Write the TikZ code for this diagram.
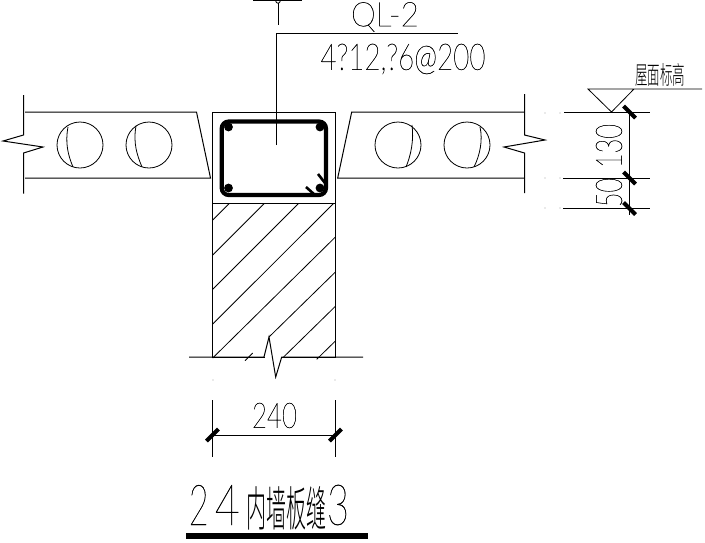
\documentclass[tikz,border=0pt]{standalone}
\usepackage{graphicx}
\usepackage{fontspec}
\setmainfont{Lato}[UprightFont={* Hairline},UprightFeatures={FakeBold=0.6}]
\newfontfamily\cjk{Noto Sans CJK SC}[UprightFont={* Light}]
\newcommand{\fitbox}[3]{\resizebox{#1pt}{#2pt}{#3}}
\tikzset{
  x=1pt,y=-1pt,
  ln/.style={line width=1pt,black},
  thin line/.style={line width=0.8pt,black},
  tick mark/.style={line width=4pt,black},
  hook mark/.style={line width=2.6pt,black},
  stirrup/.style={line width=4.2pt,black,rounded corners=7pt},
  bar/.style={fill=black,draw=none},
  txt/.style={inner sep=0pt,outer sep=0pt,anchor=center,text=black},
  speck/.style={fill=black!35,draw=none},
}
\begin{document}
\begin{tikzpicture}
\useasboundingbox[fill=white] (0,0) rectangle (705,542);
% section mark at top
\draw[ln] (253,0.5) -- (302,0.5);
\draw[thin line] (278,1) circle (2.2);
\draw[ln] (278,3) -- (278,25);
% leader
\coordinate (lead0) at (276.5,145);
\coordinate (lead1) at (276.5,33);
\coordinate (lead2) at (458,33);
\draw[ln] (lead0) -- (lead1) -- (lead2);
\node[txt] (beamname) at (385,17) {\fitbox{68}{24}{QL-2}};
\node[txt] (rebar) at (403,59) {\fitbox{165}{26}{4?12,?6@200}};
% beam and wall
\draw[ln] (212.5,112) rectangle (335.5,357);
\draw[ln] (212.5,203.5) -- (335.5,203.5);
% hatch
\foreach \a/\b/\c/\d in {212.7/220/229/203.7,212.7/255/264/203.7,212.7/289.3/298.3/203.7,212.7/324/333.3/203.7,212.7/358/335.7/236.7,245/360.7/252.7/353,269/337/335.7/271.7,283.3/357.3/335.7/306,316.7/359.3/335.7/340.7}
  \draw[thin line] (\a,\b) -- (\c,\d);
% wall foot with break
\fill[white] (264.5,356) rectangle (281.5,358.5);
\draw[ln] (189,357) -- (264,357) -- (269,337) -- (275.7,377) -- (281.7,357) -- (363,357);
% stirrup
\draw[stirrup] (221.7,121.5) rectangle (326,195);
\foreach \p/\q in {228.5/127,320/127,228.5/188,320/188}
  \fill[bar] (\p,\q) circle (4.4);
\draw[hook mark] (306,187) -- (315,195);
\draw[hook mark] (318,174) -- (325,183);
% left slab
\draw[ln] (25,112) -- (196.5,112) -- (210.5,178) -- (25,178);
\draw[ln] (23.5,95) -- (23.5,135) -- (3,141) -- (43,147) -- (23.5,153) -- (23.5,193.5);
\draw[thin line] (80,145) circle (23);
\draw[thin line] (149,145) circle (23);
\draw[thin line] (68,127) .. controls (65,143) and (68,155) .. (73,167);
\draw[thin line] (136,126) .. controls (133,143) and (137,155) .. (142,167);
% right slab
\draw[ln] (524,112) -- (351.7,112) -- (337.7,178) -- (524,178);
\draw[ln] (524.5,94) -- (524.5,135) -- (545,140) -- (504,147) -- (524.5,153) -- (524.5,193);
\draw[thin line] (398,145) circle (23);
\draw[thin line] (467,145) circle (23);
\draw[thin line] (412,125) .. controls (414,140) and (411,155) .. (406,167);
\draw[thin line] (480,127) .. controls (483,140) and (480,155) .. (474,167);
% elevation dimensions
\draw[ln] (564,112) -- (650,112);
\draw[ln] (563,178.5) -- (650,178.5);
\draw[ln] (563,208.5) -- (650,208.5);
\draw[ln] (629.5,112) -- (629.5,215);
\foreach \q in {112,178,208.5}
  \draw[tick mark] (623.5,\q-6) -- (635.5,\q+6);
\draw[thin line] (702,89) -- (588,89) -- (611.5,112) -- (634,89);
\node[txt] (roof) at (660,75) {\fitbox{50}{21}{\cjk 屋面标高}};
\node[txt,rotate=90] (dim130) at (609,146) {\fitbox{44}{26}{130}};
\node[txt,rotate=90] (dim50) at (609,192.5) {\fitbox{29}{26}{50}};
% width dimension
\draw[ln] (212.5,400) -- (212.5,457);
\draw[ln] (335.5,400) -- (335.5,457);
\draw[ln] (212.5,435) -- (335.5,435);
\draw[tick mark] (206.5,441) -- (218.5,429);
\draw[tick mark] (329.5,441) -- (341.5,429);
\node[txt] (dim240) at (274.5,415.5) {\fitbox{45}{25}{240}};
% title
\node[txt] (t2) at (198.7,505) {\fitbox{20}{40}{2}};
\node[txt] (t4) at (227.3,505) {\fitbox{25}{40}{4}};
\node[txt] (tcn) at (286.7,508) {\fitbox{80}{40}{\cjk 内墙板缝}};
\node[txt] (t3) at (338,505) {\fitbox{22}{40}{3}};
\fill[black] (186,533.3) rectangle (367.7,539);
% specks
\foreach \p/\q in {213/380,335/380,545/113,545/178,545/208,560/113,560/178,560/208}
  \fill[speck] (\p,\q) circle (0.6);
\end{tikzpicture}
\end{document}
